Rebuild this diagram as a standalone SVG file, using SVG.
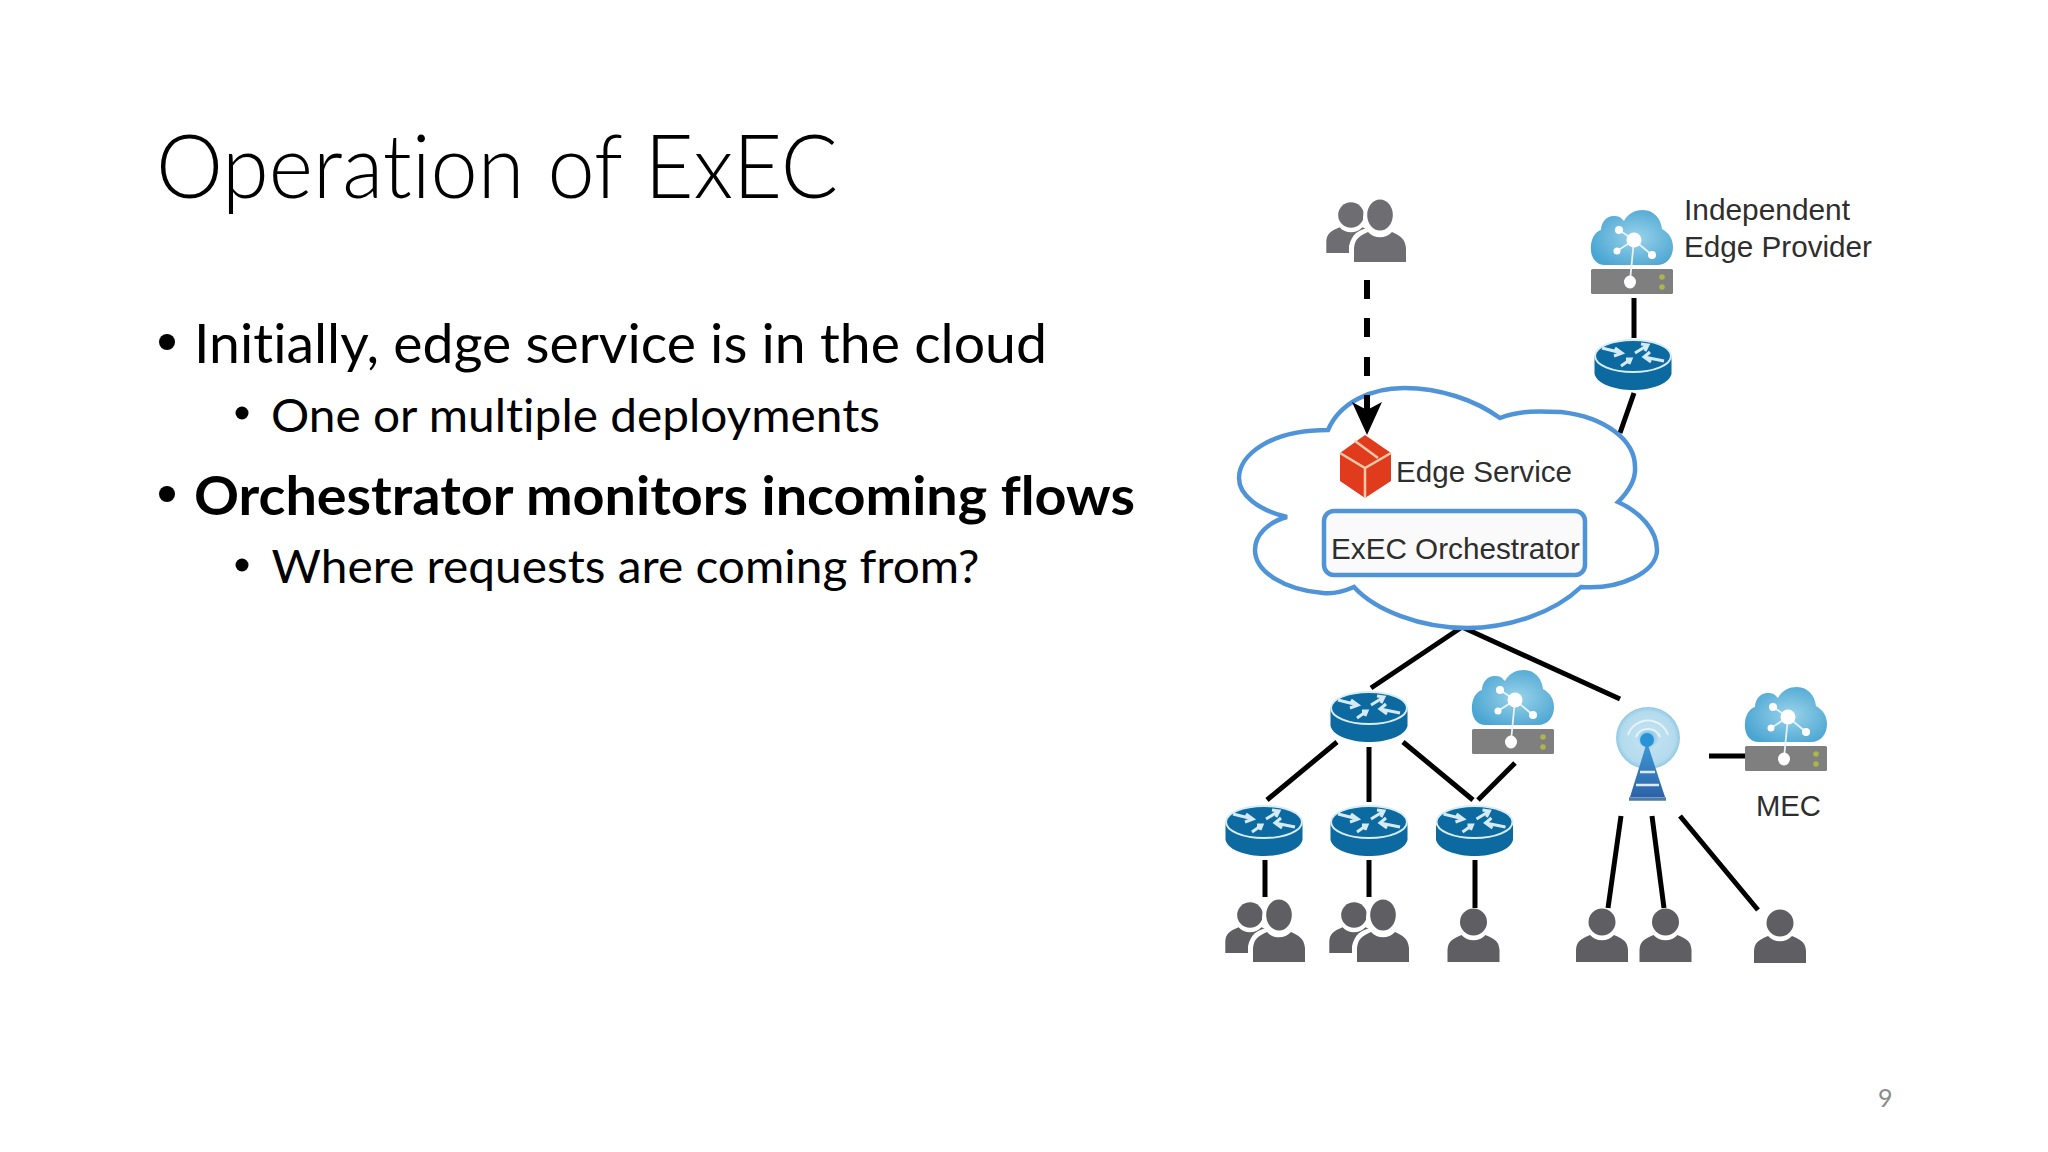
<svg xmlns="http://www.w3.org/2000/svg" width="2048" height="1152" viewBox="0 0 2048 1152">
<style>
.t{font-family:"Lato","Liberation Sans",sans-serif;fill:#000;font-variant-ligatures:none}
.l{font-family:"Liberation Sans",Arial,sans-serif;fill:#2e2e2e;font-size:30px}
.c{stroke:#000;stroke-width:5;fill:none}
.p{fill:#5f5f63}
</style>
<defs>
<filter id="soft" x="-10%" y="-10%" width="120%" height="120%"><feGaussianBlur stdDeviation="0.7"/></filter>
<g id="person"><ellipse cx="0" cy="-40" rx="13.5" ry="13.5" class="p"/><path class="p" d="M-26 0V-12C-25.500 -20 -22 -23 -12 -27C-6 -20 6 -20 12 -27C22 -23 25.500 -20 26 -12V0Z"/></g>
<g id="pair"><g transform="translate(-29,-9) scale(.95)"><use href="#person"/></g><ellipse cx="0" cy="-44" rx="17" ry="20" fill="#fff"/><path d="M-31 2V-16C-28 -28 -22 -32 -12 -34H14V2Z" fill="#fff"/><ellipse cx="0" cy="-47" rx="12.800" ry="15.500" class="p"/><path class="p" d="M-26 0V-14C-25 -23 -21 -26 -12 -30C-6 -23 6 -23 12 -30C21 -26 25 -23 26 -14V0Z"/></g>
<g id="router">
<path d="M-38.500 -2V16C-36 26 -18 32 0 32C18 32 36 26 38.500 16V-2Z" fill="#0c6aa1"/>
<ellipse cx="0" cy="-2" rx="38" ry="16" fill="#0c6aa1" stroke="#d8edf6" stroke-width="2"/>
<g stroke="#d6eaf4" stroke-width="3" fill="none"><path d="M-31 -10L-11 -5M-18 -10L-11 -5L-19 -2"/><path d="M31 3L11 -1M17 -6L11 -1L18 4"/><path d="M-12 8L-2 1M-7 1L-2 1L-4 6"/><path d="M2 -5L15 -13M8 -14L15 -13L12 -7"/></g>
</g>
<radialGradient id="cg" cx="55%" cy="50%" r="60%"><stop offset="0" stop-color="#9ad3ea"/><stop offset="1" stop-color="#4aa5d2"/></radialGradient>
<g id="edge">
<path d="M14 -4C3 -4 -1 -14 0 -24C1 -33 6 -38 10 -39C10 -48 17 -54 24 -53C29 -53 31 -50 33 -48C37 -56 45 -59 52 -59C63 -59 70 -50 71 -40C78 -36 82 -30 82 -22C82 -12 76 -4 66 -4Z" fill="url(#cg)"/>
<rect x="0" y="0" width="82" height="25" rx="1.500" fill="#807f80"/>
<g stroke="#e6f3f9" stroke-width="1.800" fill="none"><path d="M43 -29L28 -39M43 -29L61 -14M43 -29L26 -18M43 -29L39 12"/></g>
<g fill="#fff"><circle cx="43" cy="-29" r="7.500"/><circle cx="28" cy="-39" r="4"/><circle cx="61" cy="-14" r="4"/><circle cx="26" cy="-18" r="3.500"/><ellipse cx="39" cy="13" rx="6" ry="6.500"/></g>
<g fill="#a9b64a"><circle cx="71" cy="8" r="2.800"/><circle cx="71" cy="18" r="2.800"/></g>
</g>
<radialGradient id="tg" cx="50%" cy="50%" r="50%"><stop offset="0" stop-color="#5fb2e0"/><stop offset=".35" stop-color="#bfe0f0"/><stop offset=".85" stop-color="#b3dbed"/><stop offset="1" stop-color="#93c9e3"/></radialGradient>
<linearGradient id="tw" x1="0" y1="0" x2="0" y2="1"><stop offset="0" stop-color="#3f9ad6"/><stop offset="1" stop-color="#2c63a8"/></linearGradient>
</defs>
<rect width="2048" height="1152" fill="#fff"/>
<text class="t" x="156" y="198" font-size="88" font-weight="300" textLength="682" lengthAdjust="spacingAndGlyphs">Operation of ExEC</text>
<g id="bullets">
<circle cx="167" cy="342" r="8"/><circle cx="242" cy="413" r="6.500"/><circle cx="167" cy="494" r="8"/><circle cx="242" cy="565" r="6.500"/>
<text class="t" x="194" y="363" font-size="54" textLength="853" lengthAdjust="spacingAndGlyphs">Initially, edge service is in the cloud</text>
<text class="t" x="271" y="432" font-size="46" textLength="609" lengthAdjust="spacingAndGlyphs">One or multiple deployments</text>
<text class="t" x="194" y="515" font-size="54" font-weight="700" textLength="941" lengthAdjust="spacingAndGlyphs">Orchestrator monitors incoming flows</text>
<text class="t" x="271.500" y="583" font-size="46" textLength="708" lengthAdjust="spacingAndGlyphs">Where requests are coming from?</text>
</g>
<text id="page" x="1878" y="1107" font-family="Lato,sans-serif" font-size="25" fill="#8b8b8b">9</text>
<g id="connectors" class="c">
<path d="M1634 298V338M1634 393L1620 433"/>
<path d="M1371 688L1462 627L1620 699"/>
<path d="M1337 742L1267 800M1369 747V802M1403 742L1473 800M1515 763L1478 800"/>
<path d="M1265 860V897M1369 860V897M1475 860V908"/>
<path d="M1621 816L1608 908M1652 816L1664 908M1680 816L1758 910M1709 756H1745"/>
</g>
<g id="cloud"><path d="M1328 430C1340 402 1372 388 1404 388C1440 388 1475 400 1500 418C1520 410 1540 411 1561 412C1605 417 1635 440 1635 467C1636 480 1628 492 1618 502C1640 512 1657 530 1657 550C1657 572 1620 590 1581 587C1555 612 1510 628 1467 628C1420 628 1375 610 1354 587C1340 593 1330 594 1323 593C1285 590 1255 572 1255 550C1255 535 1268 522 1287 517C1258 510 1239 495 1239 478C1239 455 1270 430 1328 430Z" fill="#fff" stroke="#4f94d8" stroke-width="4.500"/></g>
<g id="arrow"><path d="M1367 280V299M1367 318V337M1367 357V376M1367 395V412" stroke="#000" stroke-width="6" fill="none"/><path d="M1367 435L1352 402L1367 410L1382 402Z"/></g>
<g id="service">
<path d="M1365 435L1391 453V481L1365 498L1340 481V453Z" fill="#df3a1e" filter="url(#soft)"/>
<path d="M1340 453L1365 468L1391 453M1365 468V498M1355 441L1378 458" stroke="#f5c9a8" stroke-width="2.500" fill="none"/>
<text class="l" x="1396" y="482" textLength="176" lengthAdjust="spacingAndGlyphs">Edge Service</text>
</g>
<g id="orchestrator"><rect x="1324" y="511" width="261" height="64" rx="10" fill="#fafafa" stroke="#4f94d8" stroke-width="4.500"/>
<text class="l" x="1331" y="559" textLength="249" lengthAdjust="spacingAndGlyphs">ExEC Orchestrator</text></g>
<use id="users-top" href="#pair" x="1380" y="262" opacity=".9"/>
<g id="provider"><use href="#edge" x="1591" y="269" filter="url(#soft)"/>
<text class="l" x="1684" y="220" textLength="166" lengthAdjust="spacingAndGlyphs">Independent</text>
<text class="l" x="1684" y="257" textLength="188" lengthAdjust="spacingAndGlyphs">Edge Provider</text></g>
<use id="r0" href="#router" x="1633" y="358" filter="url(#soft)"/>
<use id="r1" href="#router" x="1369" y="710" filter="url(#soft)"/>
<use id="r2" href="#router" x="1264" y="824" filter="url(#soft)"/>
<use id="r3" href="#router" x="1369" y="824" filter="url(#soft)"/>
<use id="r4" href="#router" x="1474.500" y="824" filter="url(#soft)"/>
<use id="edge-mid" href="#edge" x="1472" y="729" filter="url(#soft)"/>
<g id="mec"><use href="#edge" x="1745" y="746" filter="url(#soft)"/><text class="l" x="1756" y="816" textLength="65" lengthAdjust="spacingAndGlyphs">MEC</text></g>
<g id="tower" filter="url(#soft)">
<ellipse cx="1648" cy="738" rx="32" ry="31" fill="url(#tg)"/>
<g fill="none" stroke="#e6f3fa" stroke-width="2"><path d="M1628 735A21 21 0 0 1 1668 735M1636 737A13 13 0 0 1 1660 737"/></g>
<path d="M1647 742L1665 797H1630Z" fill="url(#tw)"/><circle cx="1647" cy="740" r="7" fill="#2b93d6"/>
<path d="M1636 785H1659M1640 772H1655" stroke="#dbeaf5" stroke-width="2.500"/><path d="M1629 799H1666" stroke="#4d7cab" stroke-width="3.500"/>
</g>
<use id="u1" href="#pair" x="1279" y="962"/>
<use id="u2" href="#pair" x="1383" y="962"/>
<use id="u3" href="#person" x="1473.500" y="962"/>
<use id="u4" href="#person" x="1602" y="962"/>
<use id="u5" href="#person" x="1665.500" y="962"/>
<use id="u6" href="#person" x="1780" y="963"/>
</svg>
